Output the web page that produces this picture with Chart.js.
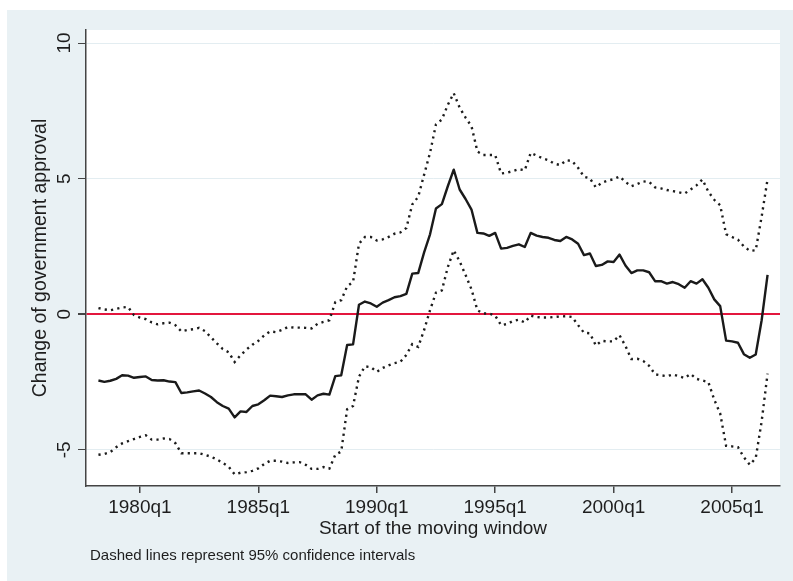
<!DOCTYPE html>
<html>
<head>
<meta charset="utf-8">
<script src="https://cdn.jsdelivr.net/npm/chart.js@4.4.0/dist/chart.umd.min.js"></script>
<style>
html, body { margin: 0; padding: 0; background: #fff; }
#wrap { position: relative; width: 793px; height: 581px; }
</style>
</head>
<body>
<div id="wrap"><canvas id="chart" width="793" height="581"></canvas></div>
<script>
// --- Datos: ventana móvil trimestral (1978q2 - 2006q3) ---
const quarters = [
  '1978q2','1978q3','1978q4',
  '1979q1','1979q2','1979q3','1979q4',
  '1980q1','1980q2','1980q3','1980q4',
  '1981q1','1981q2','1981q3','1981q4',
  '1982q1','1982q2','1982q3','1982q4',
  '1983q1','1983q2','1983q3','1983q4',
  '1984q1','1984q2','1984q3','1984q4',
  '1985q1','1985q2','1985q3','1985q4',
  '1986q1','1986q2','1986q3','1986q4',
  '1987q1','1987q2','1987q3','1987q4',
  '1988q1','1988q2','1988q3','1988q4',
  '1989q1','1989q2','1989q3','1989q4',
  '1990q1','1990q2','1990q3','1990q4',
  '1991q1','1991q2','1991q3','1991q4',
  '1992q1','1992q2','1992q3','1992q4',
  '1993q1','1993q2','1993q3','1993q4',
  '1994q1','1994q2','1994q3','1994q4',
  '1995q1','1995q2','1995q3','1995q4',
  '1996q1','1996q2','1996q3','1996q4',
  '1997q1','1997q2','1997q3','1997q4',
  '1998q1','1998q2','1998q3','1998q4',
  '1999q1','1999q2','1999q3','1999q4',
  '2000q1','2000q2','2000q3','2000q4',
  '2001q1','2001q2','2001q3','2001q4',
  '2002q1','2002q2','2002q3','2002q4',
  '2003q1','2003q2','2003q3','2003q4',
  '2004q1','2004q2','2004q3','2004q4',
  '2005q1','2005q2','2005q3','2005q4',
  '2006q1','2006q2','2006q3'
];

// efecto estimado (línea sólida)
const estimate = [
  -2.44, -2.49, -2.45, -2.38, -2.25, -2.26, -2.34,
  -2.31, -2.29, -2.42, -2.44, -2.43, -2.48, -2.50, -2.90, -2.88, -2.84,
  -2.81, -2.92, -3.05, -3.24, -3.38, -3.48, -3.80, -3.58, -3.60, -3.38,
  -3.32, -3.17, -3.00, -3.02, -3.05, -2.99, -2.95, -2.95, -2.95, -3.15,
  -2.99, -2.93, -2.96, -2.28, -2.25, -1.13, -1.11, 0.35, 0.47, 0.40,
  0.28, 0.43, 0.52, 0.63, 0.67, 0.75, 1.50, 1.52, 2.28, 2.95,
  3.90, 4.06, 4.72, 5.33, 4.60, 4.25, 3.86, 3.00, 2.98, 2.89,
  3.00, 2.42, 2.45, 2.52, 2.58, 2.48, 3.00, 2.90, 2.85, 2.82,
  2.74, 2.70, 2.85, 2.76, 2.60, 2.18, 2.24, 1.78, 1.82, 1.95,
  1.93, 2.20, 1.80, 1.52, 1.62, 1.62, 1.55, 1.22, 1.22, 1.13,
  1.19, 1.11, 0.98, 1.22, 1.13, 1.29, 0.98, 0.55, 0.30, -0.97,
  -1.00, -1.05, -1.47, -1.60, -1.48, -0.22, 1.45
];

// límite superior del IC 95%
const upperCI = [
  0.23, 0.18, 0.15, 0.20, 0.25, 0.27, -0.03,
  -0.12, -0.18, -0.30, -0.37, -0.33, -0.31, -0.40, -0.63, -0.58, -0.55,
  -0.50, -0.62, -0.85, -1.07, -1.28, -1.40, -1.76, -1.51, -1.30, -1.12,
  -0.98, -0.78, -0.63, -0.66, -0.58, -0.47, -0.49, -0.49, -0.50, -0.52,
  -0.35, -0.28, -0.22, 0.45, 0.52, 1.03, 1.19, 2.60, 2.85, 2.85,
  2.72, 2.76, 2.85, 2.97, 3.02, 3.18, 4.05, 4.33, 5.15, 5.95,
  7.00, 7.18, 7.72, 8.15, 7.62, 7.25, 6.93, 6.00, 5.87, 5.87,
  5.87, 5.19, 5.22, 5.28, 5.35, 5.31, 5.95, 5.85, 5.75, 5.68,
  5.55, 5.50, 5.68, 5.65, 5.40, 5.07, 5.01, 4.68, 4.85, 4.93,
  4.98, 5.08, 4.88, 4.72, 4.80, 4.90, 4.88, 4.68, 4.64, 4.58,
  4.54, 4.50, 4.45, 4.60, 4.75, 4.97, 4.52, 4.22, 4.02, 2.95,
  2.85, 2.75, 2.50, 2.34, 2.36, 3.60, 4.98
];

// límite inferior del IC 95%
const lowerCI = [
  -5.18, -5.15, -5.08, -4.90, -4.76, -4.68, -4.60,
  -4.52, -4.46, -4.62, -4.62, -4.58, -4.60, -4.75, -5.12, -5.12, -5.12,
  -5.12, -5.18, -5.25, -5.35, -5.48, -5.62, -5.90, -5.84, -5.82, -5.77,
  -5.68, -5.52, -5.40, -5.40, -5.43, -5.48, -5.46, -5.45, -5.55, -5.70,
  -5.70, -5.63, -5.69, -5.18, -5.06, -3.50, -3.38, -2.30, -1.92, -1.95,
  -2.12, -1.98, -1.88, -1.80, -1.75, -1.50, -1.10, -1.20, -0.58, 0.15,
  0.80, 0.88, 1.74, 2.36, 1.95, 1.45, 0.92, 0.15, 0.03, 0.03,
  -0.05, -0.40, -0.36, -0.25, -0.20, -0.30, -0.05, -0.10, -0.12, -0.12,
  -0.10, -0.08, -0.07, -0.10, -0.40, -0.68, -0.70, -1.15, -0.98, -1.00,
  -1.00, -0.77, -1.17, -1.65, -1.64, -1.72, -1.90, -2.21, -2.25, -2.28,
  -2.22, -2.28, -2.35, -2.20, -2.38, -2.44, -2.50, -3.15, -3.66, -4.85,
  -4.87, -4.90, -5.27, -5.55, -5.30, -3.95, -2.19
];

// --- Ejes ---
const xTickLabels = ['1980q1', '1985q1', '1990q1', '1995q1', '2000q1', '2005q1'];
const yTickValues = [-5, 0, 5, 10];

const FONT = "'Liberation Sans', Arial, Helvetica, sans-serif";
const INK = '#1e1e1e';

// trimestre "1980q1" -> índice tipo Stata %tq (trimestres desde 1960q1)
function tq(label) {
    const year = parseInt(label.slice(0, 4), 10);
    const q = parseInt(label.slice(5), 10);
    return (year - 1960) * 4 + (q - 1);
}
function tqLabel(v) {
    const year = 1960 + Math.floor(v / 4);
    const q = (v % 4 + 4) % 4 + 1;
    return year + 'q' + q;
}

function toPoints(values) {
    return values.map((y, i) => ({ x: tq(quarters[i]), y: y }));
}

// Fondo estilo Stata + etiquetas giradas del eje Y + nota
const stataLook = {
    id: 'stataLook',
    beforeDraw(chart) {
        const { ctx, chartArea } = chart;
        ctx.save();
        ctx.fillStyle = '#ffffff';
        ctx.fillRect(0, 0, chart.width, chart.height);
        ctx.fillStyle = '#e9f1f4';
        ctx.fillRect(7, 10, chart.width - 7, chart.height - 10);
        ctx.fillStyle = '#ffffff';
        ctx.fillRect(chartArea.left, chartArea.top, chartArea.right - chartArea.left, chartArea.bottom - chartArea.top);
        ctx.restore();
    },
    afterDraw(chart) {
        const { ctx } = chart;
        const yScale = chart.scales.y;
        ctx.save();
        ctx.fillStyle = INK;
        ctx.font = '19px ' + FONT;
        ctx.textAlign = 'center';
        ctx.textBaseline = 'middle';
        yTickValues.forEach(v => {
            const py = yScale.getPixelForValue(v);
            ctx.save();
            ctx.translate(65, py);
            ctx.rotate(-Math.PI / 2);
            ctx.fillText(String(v), 0, 0);
            ctx.restore();
        });
        ctx.font = '15px ' + FONT;
        ctx.textAlign = 'left';
        ctx.fillText('Dashed lines represent 95% confidence intervals', 90, 556);
        ctx.restore();
    }
};

const dotted = {
    borderColor: '#1c1c1c',
    borderWidth: 2.4,
    borderDash: [2.2, 4.2],
    borderCapStyle: 'butt',
    pointRadius: 0,
    tension: 0,
    fill: false
};

new Chart(document.getElementById('chart').getContext('2d'), {
    type: 'line',
    data: {
        datasets: [
            Object.assign({ label: 'Upper 95% CI', data: toPoints(upperCI) }, dotted),
            Object.assign({ label: 'Lower 95% CI', data: toPoints(lowerCI) }, dotted),
            {
                label: 'Change of government approval',
                data: toPoints(estimate),
                borderColor: '#1a1a1a',
                borderWidth: 2.4,
                borderJoinStyle: 'round',
                pointRadius: 0,
                tension: 0,
                fill: false
            }
        ]
    },
    options: {
        responsive: false,
        animation: false,
        devicePixelRatio: 1,
        layout: { padding: { left: 0, top: 30, right: 13, bottom: 0 } },
        plugins: { legend: { display: false }, tooltip: { enabled: false } },
        scales: {
            x: {
                type: 'linear',
                min: 70.9,
                max: 188.1,
                afterBuildTicks: s => { s.ticks = xTickLabels.map(l => ({ value: tq(l) })); },
                afterFit: s => { s.height = 95; },
                ticks: {
                    callback: v => tqLabel(v),
                    font: { size: 19, family: FONT },
                    color: INK,
                    padding: 3,
                    maxRotation: 0,
                    autoSkip: false
                },
                grid: { drawOnChartArea: false, tickColor: '#444', tickLength: 7, lineWidth: 1.5 },
                border: { display: true, color: '#444', width: 1.5 },
                title: {
                    display: true,
                    text: 'Start of the moving window',
                    font: { size: 19, family: FONT },
                    color: INK,
                    padding: { top: 0, bottom: 41 }
                }
            },
            y: {
                type: 'linear',
                min: -6.33,
                max: 10.48,
                afterBuildTicks: s => { s.ticks = yTickValues.map(v => ({ value: v })); },
                afterFit: s => { s.width = 86; },
                ticks: { display: false },
                grid: {
                    color: c => (c.tick && c.tick.value === 0) ? '#e3163e' : '#e3edf1',
                    lineWidth: c => (c.tick && c.tick.value === 0) ? 2 : 1,
                    tickColor: '#444',
                    tickLength: 8
                },
                border: { display: true, color: '#444', width: 1.5 },
                title: {
                    display: true,
                    text: 'Change of government approval',
                    font: { size: 19.5, family: FONT },
                    color: INK,
                    padding: { top: 29, bottom: 0 }
                }
            }
        }
    },
    plugins: [stataLook]
});
</script>
</body>
</html>
